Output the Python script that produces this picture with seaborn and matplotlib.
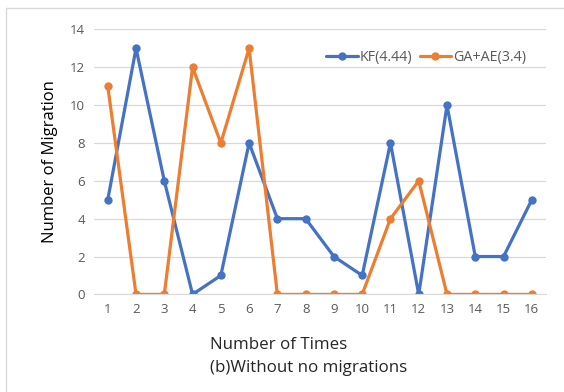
import pandas as pd
import matplotlib.pyplot as plt
import matplotlib.lines as mlines
import seaborn as sns

# ── Data ──────────────────────────────────────────────────────────────
times = list(range(1, 17))
kf = [5, 13, 6, 0, 1, 8, 4, 4, 2, 1, 8, 0, 10, 2, 2, 5]
ga_ae = [11, 0, 0, 12, 8, 13, 0, 0, 0, 0, 4, 6, 0, 0, 0, 0]
series_names = ['KF(4.44)', 'GA+AE(3.4)']
y_ticks = [0, 2, 4, 6, 8, 10, 12, 14]

df = pd.DataFrame({'Times': times * 2,
                   'Migration': kf + ga_ae,
                   'Method': [series_names[0]] * 16 + [series_names[1]] * 16})

# ── Plot ──────────────────────────────────────────────────────────────
sns.set_style('white')
plt.rcParams['font.family'] = ['Open Sans', 'DejaVu Sans']

fig = plt.figure(figsize=(5.64, 3.92), dpi=100)
ax = fig.add_axes([0.166, 0.249, 0.802, 0.676])

palette = {series_names[0]: '#4472C4', series_names[1]: '#ED7D31'}
sns.lineplot(data=df, x='Times', y='Migration', hue='Method', palette=palette,
             marker='o', markersize=6, markeredgewidth=0, linewidth=2.3,
             ax=ax, legend=False)

ax.set_xlim(0.5, 16.5)
ax.set_ylim(0, 14)
ax.set_xticks(times)
ax.set_yticks(y_ticks)
ax.tick_params(axis='both', labelsize=9.5, colors='#595959', length=0, pad=6)
ax.grid(axis='y', color='#D9D9D9', linewidth=0.9)
ax.set_axisbelow(True)
for s in ['top', 'right', 'left']:
    ax.spines[s].set_visible(False)
ax.spines['bottom'].set_color('#D9D9D9')
ax.set_xlabel('')
ax.set_ylabel('Number of Migration', fontsize=12, color='#000000', labelpad=9)

handles = [mlines.Line2D([], [], color=palette[n], linewidth=2.3, marker='o',
                         markersize=6, markeredgewidth=0) for n in series_names]
ax.legend(handles, series_names, loc='upper right', bbox_to_anchor=(0.985, 0.97),
          ncol=2, frameon=False, fontsize=10.3, labelcolor='#595959',
          handlelength=2.2, handletextpad=0.15, columnspacing=0.5)

fig.text(0.372, 0.12, 'Number of Times', fontsize=12.2, ha='left', va='center')
fig.text(0.372, 0.061, '(b)Without no migrations', fontsize=12.2, ha='left', va='center')

# outer chart frame (top and left edges visible)
fig.add_artist(mlines.Line2D([0.01, 1.0], [0.979, 0.979], color='#D9D9D9',
                             linewidth=1.0, transform=fig.transFigure))
fig.add_artist(mlines.Line2D([0.01, 0.01], [0.0, 0.979], color='#D9D9D9',
                             linewidth=1.0, transform=fig.transFigure))

fig.savefig('out.png', dpi=100)
